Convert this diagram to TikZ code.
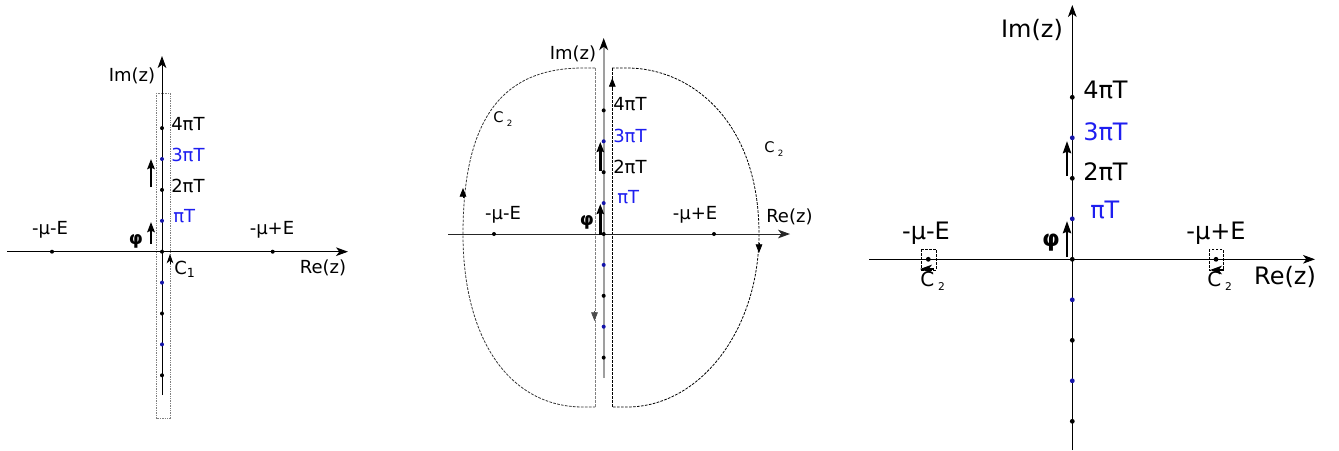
\documentclass[tikz,border=0pt]{standalone}
\usepackage{fontspec}
\setmainfont{DejaVu Sans}
\usetikzlibrary{arrows.meta}
\definecolor{lblblue}{RGB}{30,30,240}
\definecolor{dotblue}{RGB}{20,20,170}
\tikzset{
  axisline/.style={line width=0.75pt,-{Stealth[length=9pt,width=6.5pt,inset=2.5pt,color=black]}},
  thickarr/.style={line width=1.9pt,-{Stealth[length=7.5pt,width=5.5pt,inset=1pt]}},
  thickarrbig/.style={line width=2.1pt,-{Stealth[length=9pt,width=6pt,inset=1pt]}},
  pdot/.style={circle,fill=black,inner sep=0pt,minimum size=3pt},
  pdotbig/.style={circle,fill=black,inner sep=0pt,minimum size=3.6pt},
  lab/.style={inner sep=0pt,font=\fontsize{13.5}{16}\selectfont},
  labbig/.style={inner sep=0pt,font=\fontsize{18}{21}\selectfont},
  philab/.style={inner sep=0pt,font=\fontsize{13.5}{16}\selectfont\bfseries},
  philabbig/.style={inner sep=0pt,font=\fontsize{17}{20}\selectfont\bfseries},
  contour/.style={line width=0.6pt,dash pattern=on 2pt off 1pt},
  ctip/.style={line width=0.6pt,-{Triangle[length=6.5pt,width=5pt]}},
  smalltip/.style={line width=0.8pt,-{Stealth[length=9pt,width=6.5pt,inset=2.5pt]}},
}
\begin{document}
\begin{tikzpicture}[x=0.75pt,y=-0.75pt]
\useasboundingbox (0,0) rectangle (1339,450);
% ================= Panel 1 =================
\coordinate (A-xl) at (7,251.7);
\coordinate (A-xr) at (348,251.7);
\coordinate (A-yb) at (162,395);
\coordinate (A-yt) at (162,56);
\draw[line width=0.6pt,gray,dash pattern=on 1pt off 0.8pt] (156,93) rectangle (170,418);
\draw[axisline] (A-xl) -- (A-xr);
\draw[axisline] (A-yb) -- (A-yt);
\foreach \k/\col/\n in {4/black/a,3/dotblue/b,2/black/c,1/dotblue/d,0/black/e,-1/dotblue/f,-2/black/g,-3/dotblue/h,-4/black/i}
  \node[pdot,fill=\col] (A\n) at (162,{251.7-30.9*\k}) {};
\node[pdot] (Amin) at (52,251.7) {};
\node[pdot] (Aplu) at (272.7,251.7) {};
\node[lab] (Almin) at (50,230) {-μ-E};
\node[lab] (Alplu) at (272,230) {-μ+E};
\node[lab] (Are) at (323,268) {Re(z)};
\node[lab] (Aim) at (132,76) {Im(z)};
\node[lab,anchor=west] (A4) at (171,124) {4πT};
\node[lab,anchor=west,text=lblblue] (A3) at (171,155) {3πT};
\node[lab,anchor=west] (A2) at (171,186) {2πT};
\node[lab,anchor=west,text=lblblue] (A1) at (173,216) {πT};
\coordinate (Ata1) at (151,187); \coordinate (Ath1) at (151,159);
\coordinate (Ata2) at (151,244); \coordinate (Ath2) at (151,222);
\draw[thickarr] (Ata1) -- (Ath1);
\draw[thickarr] (Ata2) -- (Ath2);
\node[philab] (Aphi) at (136,241) {φ};
\coordinate (Ac1a) at (170,264); \coordinate (Ac1b) at (170,254);
\draw[line width=0.6pt,-{Stealth[length=7pt,width=5pt,inset=2pt]}] (Ac1a) -- (Ac1b);
\node[lab,anchor=west] (Ac1) at (174,269) {C\textsubscript{1}};
% ================= Panel 2 =================
\coordinate (B-xl) at (448,234);
\coordinate (B-xr) at (790,234);
\coordinate (B-yb) at (603.7,378);
\coordinate (B-yt) at (603.7,38);
% contour left
\draw[contour,black!80] (595,68) -- (583,68) .. controls (505,68) and (463,115) .. (463,234)
   .. controls (463,340) and (510,407) .. (583,407) -- (595,407);
\draw[contour,gray] (595,68) -- (595,407);
% contour right
\draw[contour] (612,68) -- (627,68) .. controls (690,68) and (759,120) .. (759,234)
   .. controls (759,330) and (700,407) .. (627,407) -- (612,407);
\draw[contour] (612,68) -- (612,407);
\draw[ctip] (463,198) -- (463,188);
\draw[ctip,gray!60!black] (594.5,311) -- (594.5,321);
\draw[ctip] (612.3,88) -- (612.3,78);
\draw[ctip] (759,243) -- (759,253);
\draw[line width=0.75pt,black!85,-{Stealth[length=9pt,width=6.5pt,inset=2.5pt]}] (B-xl) -- (B-xr);
\draw[line width=1.6pt,gray!75,-{Stealth[length=9pt,width=6.5pt,inset=2.5pt,color=black]}] (B-yb) -- (B-yt);
\foreach \k/\col/\n in {4/black/a,3/dotblue/b,2/black/c,1/dotblue/d,0/black/e,-1/dotblue/f,-2/black/g,-3/dotblue/h,-4/black/i}
  \node[pdot,fill=\col] (B\n) at (603.7,{234-30.9*\k}) {};
\node[pdot] (Bmin) at (494,234) {};
\node[pdot] (Bplu) at (714,234) {};
\node[lab] (Blmin) at (503,215) {-μ-E};
\node[lab] (Blplu) at (695,215) {-μ+E};
\node[lab,anchor=west] (Bre) at (766,217) {Re(z)};
\node[lab] (Bim) at (573,54) {Im(z)};
\node[lab,anchor=west] (B4) at (613,104) {4πT};
\node[lab,anchor=west,text=lblblue] (B3) at (613,136) {3πT};
\node[lab,anchor=west] (B2) at (613,167) {2πT};
\node[lab,anchor=west,text=lblblue] (B1) at (617,197) {πT};
\coordinate (Bta1) at (600.3,171); \coordinate (Bth1) at (600.3,142);
\coordinate (Bta2) at (600.3,235); \coordinate (Bth2) at (600.3,204);
\draw[thickarr] (Bta1) -- (Bth1);
\draw[thickarr] (Bta2) -- (Bth2);
\node[philab] (Bphi) at (587,222) {φ};
\node[inner sep=0pt,anchor=west,font=\fontsize{11}{13}\selectfont] (Bc2l) at (493,119) {C\hspace{2.5pt}\raisebox{-2.5pt}{\fontsize{6.5}{7}\selectfont 2}};
\node[inner sep=0pt,anchor=west,font=\fontsize{11}{13}\selectfont] (Bc2r) at (764,149) {C\hspace{2.5pt}\raisebox{-2.5pt}{\fontsize{6.5}{7}\selectfont 2}};
% ================= Panel 3 =================
\coordinate (C-xl) at (869,259.3);
\coordinate (C-xr) at (1315,259.3);
\coordinate (C-yb) at (1072.3,450);
\coordinate (C-yt) at (1072.3,5);
\draw[axisline] (C-xl) -- (C-xr);
\draw[axisline] (C-yb) -- (C-yt);
\foreach \k/\col/\n in {4/black/a,3/dotblue/b,2/black/c,1/dotblue/d,0/black/e,-1/dotblue/f,-2/black/g,-3/dotblue/h,-4/black/i}
  \node[pdotbig,fill=\col] (C\n) at (1072.3,{259.3-40.5*\k}) {};
\node[pdotbig] (Cmin) at (928.3,259.3) {};
\node[pdotbig] (Cplu) at (1216,259.3) {};
\draw[line width=0.6pt,dash pattern=on 2pt off 1pt] (921.7,249.3) rectangle (936,270);
\draw[line width=0.6pt,dash pattern=on 2pt off 1pt] (1209,249.3) rectangle (1223,270);
\draw[smalltip] (934,269) -- (920,269);
\draw[smalltip] (1224,270) -- (1210,270);
\node[labbig] (Clmin) at (926,233) {-μ-E};
\node[labbig] (Clplu) at (1216,233) {-μ+E};
\node[labbig] (Cre) at (1285,277) {Re(z)};
\node[labbig] (Cim) at (1032,30) {Im(z)};
\node[labbig,anchor=west] (C4) at (1083,90) {4πT};
\node[labbig,anchor=west,text=lblblue] (C3) at (1083,132) {3πT};
\node[labbig,anchor=west] (C2) at (1083,172) {2πT};
\node[labbig,anchor=west,text=lblblue] (C1) at (1090,210) {πT};
\coordinate (Cta1) at (1067,176); \coordinate (Cth1) at (1067,141);
\coordinate (Cta2) at (1067,257); \coordinate (Cth2) at (1067,221);
\draw[thickarrbig] (Cta1) -- (Cth1);
\draw[thickarrbig] (Cta2) -- (Cth2);
\node[philabbig] (Cphi) at (1051,243) {φ};
\node[inner sep=0pt,anchor=west,font=\fontsize{15}{17}\selectfont] (Cc2l) at (920,281) {C\hspace{3pt}\raisebox{-3.5pt}{\fontsize{8}{9}\selectfont 2}};
\node[inner sep=0pt,anchor=west,font=\fontsize{15}{17}\selectfont] (Cc2r) at (1207,281) {C\hspace{3pt}\raisebox{-3.5pt}{\fontsize{8}{9}\selectfont 2}};
\end{tikzpicture}
\end{document}
